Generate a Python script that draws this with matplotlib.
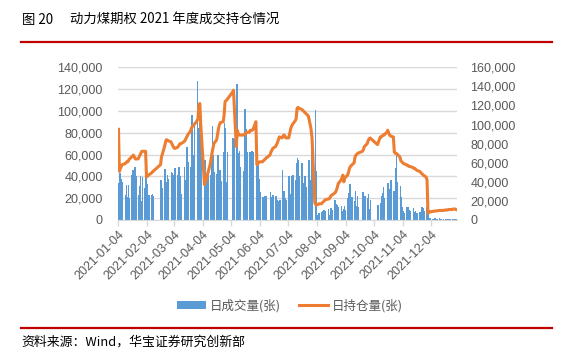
import numpy as np
import pandas as pd
import matplotlib
matplotlib.use("Agg")
import matplotlib.pyplot as plt
import matplotlib.dates as mdates
from matplotlib.ticker import FuncFormatter, MultipleLocator
from matplotlib.patches import Patch
from matplotlib.lines import Line2D

plt.rcParams['font.family'] = ['Liberation Sans', 'Noto Sans CJK SC', 'DejaVu Sans']

# exchange holidays 2021 (weekdays without trading)
holidays = ['2021-02-11', '2021-02-12', '2021-02-15', '2021-02-16', '2021-02-17',
            '2021-04-05', '2021-05-03', '2021-05-04', '2021-05-05', '2021-06-14',
            '2021-09-20', '2021-09-21', '2021-10-01', '2021-10-04', '2021-10-05',
            '2021-10-06', '2021-10-07']

# daily volume (thousand contracts), month by month
vol_jan = [34, 43, 38, 35, 26, 23, 32, 21, 32, 20, 41, 46, 43, 49, 40, 23, 31, 40, 17, 39]
vol_feb = [29, 40, 33, 16, 23, 23, 24, 22, 37, 29, 47, 35, 33, 41, 38]
vol_mar = [44, 43, 37, 41, 48, 41, 49, 31, 40, 24, 49, 37, 54, 67, 53, 49, 96, 60, 60, 88,
           127, 84, 89]
vol_apr = [77, 70, 55, 38, 22, 45, 41, 55, 86, 60, 44, 42, 60, 43, 46, 36, 62, 89, 84, 35, 62]
vol_may = [75, 74, 125, 61, 60, 63, 49, 28, 45, 102, 83, 62, 62, 29, 63, 35, 62, 83]
vol_jun = [70, 52, 38, 26, 21, 20, 22, 17, 22, 26, 21, 18, 23, 22, 18, 16, 17, 18, 46, 27, 27]
vol_jul = [20, 18, 40, 24, 24, 40, 41, 37, 52, 57, 55, 40, 52, 34, 31, 40, 30, 55, 37, 35,
           78, 46]
vol_aug = [101, 45, 5, 4, 6, 7, 8, 9, 6, 8, 10, 5, 7, 11, 9, 18, 15, 14, 12, 9, 13, 8]
vol_sep = [10, 13, 9, 20, 25, 33, 14, 21, 17, 27, 13, 22, 12, 26, 15, 22, 20, 24, 10, 18]
vol_oct = [14, 16, 22, 25, 30, 20, 23, 34, 28, 24, 37, 27, 20, 48, 60, 35]
vol_nov = [31, 21, 12, 8, 6, 12, 12, 9, 8, 6, 11, 7, 8, 5, 6, 7, 6, 12, 11, 8, 12, 10]
vol_dec = [6, 2, 1.5, 1, 0.5, 1.5, 0, 1, 1.5, 0.5, 1, 0, 1, 1.2, 0.5, 0, 1, 1, 0.5, 1,
           0, 0.8, 1]

# daily open interest (thousand contracts)
oi_jan = [95, 51, 54, 56, 58, 59, 60, 61, 61, 63, 66, 67, 68, 66, 64, 64, 66, 68, 70, 72]
oi_feb = [72, 72, 45, 46, 47, 49, 50, 51, 58, 66, 76, 80, 84, 84, 83]
oi_mar = [82, 80, 78, 76, 75, 76, 77, 79, 80, 80, 82, 83, 85, 87, 89, 93, 96, 98, 99, 100,
          104, 106, 120]
oi_apr = [122, 100, 37, 40, 43, 47, 58, 64, 70, 75, 80, 84, 90, 96, 100, 102, 103, 110, 124,
          125, 126]
oi_may = [134, 136, 77, 94, 91, 89, 89, 89, 89, 90, 90, 92, 92, 94, 94, 94, 95, 103]
oi_jun = [58, 59, 60, 61, 61, 62, 63, 64, 65, 68, 71, 73, 75, 77, 79, 81, 84, 87, 86, 88, 89]
oi_jul = [88, 86, 86, 90, 95, 98, 100, 104, 106, 117, 118, 117, 116, 115, 114, 113, 112,
          109, 105, 100, 95, 86]
oi_aug = [18, 16, 16, 16, 17, 17, 18, 19, 20, 21, 22, 22, 23, 25, 26, 28, 29, 31, 34, 38,
          42, 44]
oi_sep = [47, 40, 44, 47, 50, 54, 56, 57, 60, 66, 68, 69, 70, 72, 74, 77, 80, 83, 85, 86]
oi_oct = [79, 87, 87, 88, 89, 89, 92, 94, 91, 89, 88, 87, 71, 70, 70, 69]
oi_nov = [66, 62, 61, 60, 59, 58, 57, 57, 56, 56, 55, 54, 54, 53, 52, 51, 50, 49, 48, 47,
          45, 42]
oi_dec = [7, 8, 8.5, 9, 9, 9.5, 9.5, 9.5, 10, 10, 10, 10, 10, 10.5, 10.5, 10.5, 11, 11, 11,
          11.5, 11.5, 11.5, 11]

dates = pd.bdate_range('2021-01-04', '2021-12-31')
dates = dates[~dates.isin(pd.to_datetime(holidays))]

volume = np.array(vol_jan + vol_feb + vol_mar + vol_apr + vol_may + vol_jun +
                  vol_jul + vol_aug + vol_sep + vol_oct + vol_nov + vol_dec) * 1000
holding = np.array(oi_jan + oi_feb + oi_mar + oi_apr + oi_may + oi_jun +
                   oi_jul + oi_aug + oi_sep + oi_oct + oi_nov + oi_dec) * 1000
assert len(volume) == len(dates) == len(holding)

# labels on the 4th of every month
tick_dates = pd.date_range('2021-01-01', periods=12, freq='MS') + pd.Timedelta(days=3)

blue = '#5B9BD5'
orange = '#ED7D31'
grey = '#595959'
grid = '#D9D9D9'
red = '#C00000'

W, H = 572, 358
fig = plt.figure(figsize=(W / 100, H / 100), dpi=100)

def fx(px):
    return px / W

def fy(py):
    return 1 - py / H

ax = fig.add_axes([fx(118), fy(220), fx(456.5) - fx(118), fy(67.3) - fy(220)])
ax2 = ax.twinx()

# crisp 1px bars, like the exported Excel chart
ax.bar(dates, volume, width=0.6, color=blue, edgecolor=blue, linewidth=0.5,
       antialiased=False, zorder=2)
ax2.plot(dates, holding, color=orange, linewidth=2.2, solid_joinstyle='round', zorder=3)

ax.set_xlim(pd.Timestamp('2021-01-03 12:00'), pd.Timestamp('2021-12-31 12:00'))
ax.set_ylim(0, 140000)
ax2.set_ylim(0, 160000)
ax.yaxis.set_major_locator(MultipleLocator(20000))
ax2.yaxis.set_major_locator(MultipleLocator(20000))
fmt = FuncFormatter(lambda v, p: f'{int(v):,}')
ax.yaxis.set_major_formatter(fmt)
ax2.yaxis.set_major_formatter(fmt)

ax.set_xticks(tick_dates)
ax.xaxis.set_major_formatter(mdates.DateFormatter('%Y-%m-%d'))
for lab in ax.get_xticklabels():
    lab.set_rotation(45)
    lab.set_ha('right')
    lab.set_rotation_mode('anchor')

ax.grid(axis='y', color=grid, linewidth=1, zorder=0)
ax.set_axisbelow(True)
for a in (ax, ax2):
    for s in ('top', 'left', 'right'):
        a.spines[s].set_visible(False)
    a.spines['bottom'].set_color(grid)
ax2.spines['bottom'].set_visible(False)

ax.tick_params(axis='x', colors=grey, labelsize=9, length=4, width=1, color=grid, pad=2)
ax.tick_params(axis='y', colors=grey, labelsize=9, length=0, pad=11)
ax2.tick_params(axis='y', colors=grey, labelsize=9, length=0, pad=10)

# title and rules
fig.text(fx(21.5), fy(20), '图 20', fontsize=9.6, color='black', va='center',
         family=['Noto Sans CJK SC'])
fig.text(fx(70), fy(20), '动力煤期权 2021 年度成交持仓情况', fontsize=9.6, color='black',
         va='center', family=['Noto Sans CJK SC'])
fig.add_artist(Line2D([fx(21), fx(552)], [fy(41.7), fy(41.7)], color=red, linewidth=1.6))
fig.add_artist(Line2D([fx(21), fx(552)], [fy(328.3), fy(328.3)], color=red, linewidth=1.6))
fig.text(fx(21), fy(341.7), '资料来源：Wind，华宝证券研究创新部', fontsize=9.3, color='black',
         va='center', family=['Noto Sans CJK SC', 'Liberation Sans'])

handles = [Patch(facecolor=blue, edgecolor='none'),
           Line2D([], [], color=orange, linewidth=2.2)]
fig.legend(handles, ['日成交量(张)', '日持仓量(张)'], loc='center',
           bbox_to_anchor=(fx(290), fy(305.7)), ncol=2, frameon=False,
           labelcolor=grey, handlelength=2.3, handleheight=0.55,
           handletextpad=0.35, columnspacing=1.4,
           prop={'family': ['Noto Sans CJK SC', 'Liberation Sans'], 'size': 9})

fig.savefig('out.png', dpi=100)
